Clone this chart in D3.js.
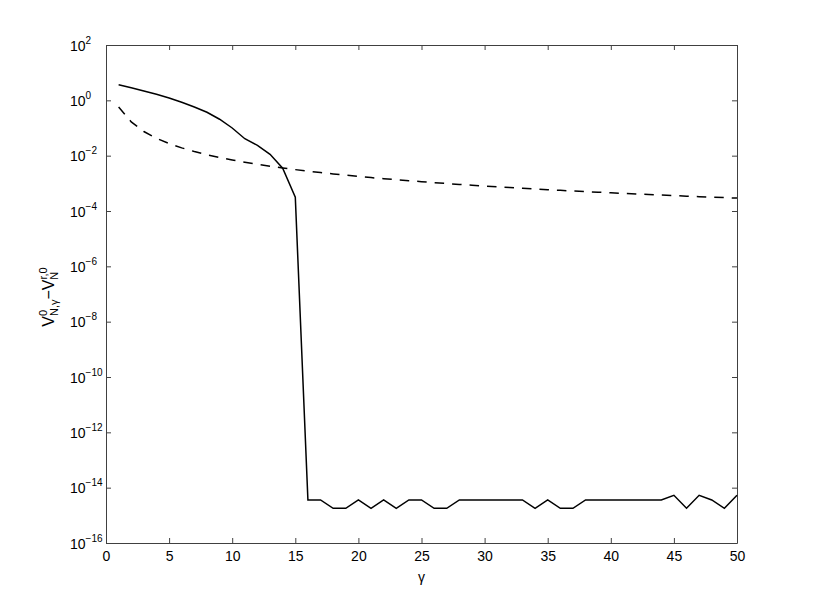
<!DOCTYPE html>
<html>
<head>
<meta charset="utf-8">
<script src="https://cdn.jsdelivr.net/npm/d3@7"></script>
<style>
  body { margin: 0; background: #fff; }
  text { font-family: "Liberation Sans", Arial, sans-serif; }
</style>
</head>
<body>
<script>
// gamma waarden (x-as)
var gamma = d3.range(1, 51);

// doorgetrokken lijn
var verschil = [3.67, 2.86, 2.18, 1.65, 1.22, 0.85, 0.574, 0.37, 0.207, 0.1,
  0.041, 0.0237, 0.0112, 0.0035, 3.13e-4,
  3.6e-15, 3.6e-15, 1.8e-15, 1.8e-15, 3.6e-15, 1.8e-15, 3.6e-15, 1.8e-15, 3.6e-15, 3.6e-15,
  1.8e-15, 1.8e-15, 3.6e-15, 3.6e-15, 3.6e-15, 3.6e-15, 3.6e-15, 3.6e-15, 1.8e-15, 3.6e-15,
  1.8e-15, 1.8e-15, 3.6e-15, 3.6e-15, 3.6e-15, 3.6e-15, 3.6e-15, 3.6e-15, 3.6e-15, 5.3e-15,
  1.8e-15, 5.3e-15, 3.6e-15, 1.8e-15, 5.3e-15];

// gestreepte lijn
var gestreept = [0.575, 0.166, 0.0746, 0.0424, 0.0273, 0.0191, 0.0141, 0.0108, 0.00857, 0.00697,
  0.00577, 0.00486, 0.00416, 0.00359, 0.00313, 0.00276, 0.00245, 0.00219, 0.00197, 0.00178,
  0.00161, 0.00147, 0.00135, 0.00124, 0.00115, 0.00106, 9.84e-4, 9.16e-4, 8.55e-4, 8.0e-4,
  7.5e-4, 7.05e-4, 6.64e-4, 6.25e-4, 5.9e-4, 5.58e-4, 5.3e-4, 5.02e-4, 4.78e-4, 4.54e-4,
  4.33e-4, 4.12e-4, 3.94e-4, 3.76e-4, 3.6e-4, 3.44e-4, 3.3e-4, 3.17e-4, 3.04e-4, 2.92e-4];

var xTicks = [0, 5, 10, 15, 20, 25, 30, 35, 40, 45, 50];
var yTicks = [1e2, 1e0, 1e-2, 1e-4, 1e-6, 1e-8, 1e-10, 1e-12, 1e-14, 1e-16];
var yExponenten = ["2", "0", "\u22122", "\u22124", "\u22126", "\u22128", "\u221210", "\u221212", "\u221214", "\u221216"];

var breedte = 814, hoogte = 610;
var marge = {boven: 45, beneden: 67, links: 106, rechts: 77};

var svg = d3.select("body").append("svg")
  .attr("width", breedte)
  .attr("height", hoogte);

var x = d3.scaleLinear().domain([0, 50]).range([marge.links, breedte - marge.rechts]);
var y = d3.scaleLog().domain([1e-16, 1e2]).range([hoogte - marge.beneden, marge.boven]);

var asKleur = "#404040";

// assen met tick marks naar binnen
var asOnder = svg.append("g")
  .attr("transform", "translate(0," + y(1e-16) + ")")
  .call(d3.axisBottom(x).tickValues(xTicks).tickSizeInner(-5).tickSizeOuter(0).tickPadding(8));
var asBoven = svg.append("g")
  .attr("transform", "translate(0," + y(1e2) + ")")
  .call(d3.axisTop(x).tickValues(xTicks).tickSizeInner(-5).tickSizeOuter(0).tickFormat(""));
var asLinks = svg.append("g")
  .attr("transform", "translate(" + x(0) + ",0)")
  .call(d3.axisLeft(y).tickValues(yTicks).tickSizeInner(-5).tickSizeOuter(0).tickFormat(""));
var asRechts = svg.append("g")
  .attr("transform", "translate(" + x(50) + ",0)")
  .call(d3.axisRight(y).tickValues(yTicks).tickSizeInner(-5).tickSizeOuter(0).tickFormat(""));

svg.selectAll(".domain, .tick line").attr("stroke", asKleur).attr("stroke-width", 1);
asOnder.selectAll("text")
  .attr("font-size", "14px")
  .attr("font-family", "Liberation Sans, Arial, sans-serif")
  .attr("fill", "#000");

// y tick labels als 10^n
var yLabels = svg.append("g");
yTicks.forEach(function(t, i) {
  var lab = yLabels.append("text")
    .attr("x", 70)
    .attr("y", y(t) + 5.5)
    .attr("font-size", "14px")
    .attr("fill", "#000");
  lab.append("tspan").text("10");
  lab.append("tspan")
    .attr("dy", -7)
    .attr("font-size", "10px")
    .text(yExponenten[i]);
});

// lijnen
var lijn = d3.line()
  .x(function(d, i) { return x(gamma[i]); })
  .y(function(d) { return y(d); });

svg.append("path")
  .datum(gestreept)
  .attr("fill", "none")
  .attr("stroke", "#000")
  .attr("stroke-width", 1.5)
  .attr("stroke-dasharray", "9.5,8")
  .attr("d", lijn);

svg.append("path")
  .datum(verschil)
  .attr("fill", "none")
  .attr("stroke", "#000")
  .attr("stroke-width", 1.5)
  .attr("d", lijn);

// x-as titel
svg.append("text")
  .attr("x", (x(0) + x(50)) / 2)
  .attr("y", 582)
  .attr("text-anchor", "middle")
  .attr("font-size", "14px")
  .text("\u03b3");

// y-as titel
var yTitel = svg.append("text")
  .attr("transform", "translate(54," + ((y(1e2) + y(1e-16)) / 2 + 3) + ") rotate(-90)")
  .attr("text-anchor", "middle")
  .attr("font-size", "16px");
yTitel.append("tspan").text("V");
yTitel.append("tspan").attr("font-size", "11px").attr("dy", -7).text("0");
yTitel.append("tspan").attr("font-size", "11px").attr("dx", -6.1).attr("dy", 11).text("N,\u03b3");
yTitel.append("tspan").attr("dy", -4).text("\u2212V");
yTitel.append("tspan").attr("font-size", "11px").attr("dy", -7).text("r,0");
yTitel.append("tspan").attr("font-size", "11px").attr("dx", -12.5).attr("dy", 11).text("N");
</script>
</body>
</html>
